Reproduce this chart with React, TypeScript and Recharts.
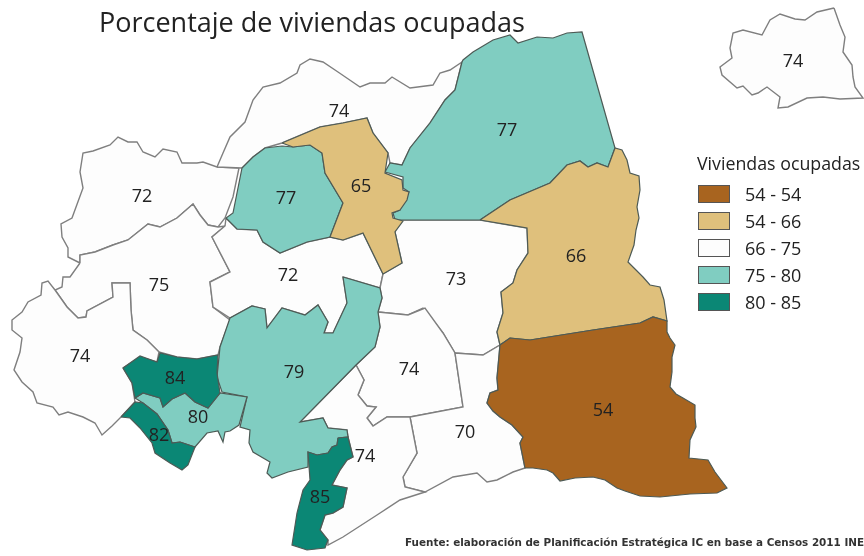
import React from 'react';
import { ScatterChart, Scatter, XAxis, YAxis } from 'recharts';

const WIDTH = 864;
const HEIGHT = 556;

type Pt = [number, number];

// class colours
const C54 = '#a8641f';
const C66 = '#dfc07c';
const C75 = '#fdfdfd';
const C80 = '#80cdc1';
const C85 = '#0b8775';

const legendItems = ['54 - 54', '54 - 66', '66 - 75', '75 - 80', '80 - 85'];
const legendColors = [C54, C66, C75, C80, C85];

// region outlines (x, y in picture units)
const west72: Pt[] = [[239,168],[217,167],[203,162],[197,163],[182,163],[177,152],[163,149],[155,157],[143,152],[137,142],[128,142],[118,137],[110,145],[93,151],[83,153],[80,172],[83,188],[72,218],[61,224],[62,237],[68,248],[68,257],[80,263],[80,255],[95,252],[113,245],[128,240],[148,224],[160,227],[177,218],[193,204],[200,215],[208,225],[218,227],[225,218],[233,197]];
const west75: Pt[] = [[80,263],[70,277],[63,277],[62,287],[55,290],[67,307],[78,318],[86,317],[87,311],[113,297],[112,283],[130,283],[131,310],[133,330],[147,340],[159,352],[177,357],[197,359],[218,355],[220,347],[230,320],[213,307],[210,282],[230,272],[212,237],[225,226],[218,227],[208,225],[200,215],[193,204],[177,218],[160,227],[148,224],[128,240],[113,245],[95,252],[80,255]];
const sw74: Pt[] = [[55,290],[48,281],[42,283],[41,295],[28,302],[22,312],[12,320],[12,330],[22,338],[20,352],[14,370],[22,382],[33,392],[37,403],[53,407],[59,415],[68,412],[83,417],[95,423],[102,435],[112,426],[121,417],[135,402],[132,383],[123,368],[140,357],[157,362],[159,352],[147,340],[133,330],[131,310],[130,283],[112,283],[113,297],[87,311],[86,317],[78,318],[67,307]];
const north74: Pt[] = [[217,167],[223,153],[230,137],[245,122],[253,100],[263,87],[280,83],[297,73],[300,65],[310,59],[323,62],[338,72],[360,87],[370,83],[385,83],[392,77],[410,88],[433,85],[440,73],[450,70],[462,62],[455,90],[445,100],[430,123],[410,148],[402,165],[390,163],[388,153],[373,133],[367,118],[343,123],[320,127],[282,143],[265,148],[253,157],[242,168]];
const mid72: Pt[] = [[226,218],[237,229],[257,230],[263,242],[280,253],[307,242],[330,237],[343,240],[363,233],[383,274],[380,288],[343,277],[347,303],[333,333],[324,333],[328,322],[318,305],[305,315],[282,308],[267,328],[265,309],[252,306],[230,318],[213,307],[210,282],[230,272],[212,237],[225,226]];
const mid73: Pt[] = [[395,220],[480,220],[527,228],[528,253],[517,270],[513,283],[501,292],[503,313],[497,332],[500,345],[483,355],[455,353],[443,333],[423,308],[408,315],[378,312],[382,298],[380,288],[383,274],[402,263],[395,232]];
const mid74: Pt[] = [[378,312],[408,315],[425,308],[443,333],[455,353],[463,407],[410,417],[387,417],[373,426],[367,418],[376,407],[367,406],[358,395],[364,380],[356,365],[375,347],[380,327]];
const south70: Pt[] = [[410,417],[463,407],[455,353],[483,355],[500,345],[498,367],[497,378],[498,390],[490,393],[487,403],[493,411],[500,417],[512,425],[523,437],[520,443],[525,468],[513,472],[497,480],[487,482],[477,473],[453,477],[425,492],[405,487],[403,477],[417,453]];
const south74: Pt[] = [[300,422],[356,365],[364,380],[358,395],[367,406],[376,407],[367,418],[373,426],[387,417],[410,417],[417,453],[403,477],[405,487],[425,492],[400,500],[377,515],[343,537],[328,545],[328,540],[320,530],[325,515],[333,513],[343,507],[347,488],[332,485],[340,470],[347,460],[353,457],[348,437],[347,430],[328,428],[323,418]];
const inset74: Pt[] = [[834,8],[840,25],[845,37],[843,52],[852,65],[853,77],[855,87],[863,98],[840,99],[823,97],[807,98],[788,107],[778,108],[780,97],[767,87],[758,93],[752,95],[743,86],[737,88],[722,75],[720,67],[732,58],[730,48],[733,33],[743,30],[762,35],[770,20],[780,14],[795,19],[805,20],[817,12]];

const west77: Pt[] = [[282,146],[293,147],[310,145],[322,153],[325,173],[343,203],[330,237],[307,242],[280,253],[263,242],[257,230],[237,229],[226,218],[233,213],[242,168],[253,157],[265,148]];
const east77: Pt[] = [[385,172],[390,163],[402,165],[410,148],[430,123],[445,100],[455,90],[462,62],[463,60],[473,52],[493,40],[510,35],[518,43],[537,37],[553,38],[567,33],[582,32],[615,148],[608,167],[597,163],[588,167],[580,161],[567,165],[550,183],[510,200],[480,220],[395,220],[393,213],[400,210],[403,200],[409,192],[403,188],[403,177]];
const center79: Pt[] = [[343,277],[380,288],[382,298],[378,312],[380,327],[375,347],[356,365],[300,422],[323,418],[328,428],[347,430],[348,437],[338,438],[337,445],[332,447],[328,453],[317,455],[308,452],[308,467],[288,472],[272,478],[267,473],[270,462],[253,452],[249,443],[250,430],[240,427],[247,397],[222,392],[217,377],[220,347],[230,318],[252,306],[265,309],[267,328],[282,308],[305,315],[318,305],[328,322],[324,333],[333,333],[347,303]];
const sw80: Pt[] = [[135,398],[143,393],[160,398],[163,407],[172,399],[185,393],[195,402],[208,408],[220,393],[247,397],[239,425],[230,431],[225,432],[223,442],[218,431],[207,433],[195,447],[180,442],[172,443],[168,430],[157,414],[143,403]];
const sw84: Pt[] = [[123,368],[140,356],[157,362],[160,353],[177,357],[197,359],[218,355],[217,373],[220,393],[208,408],[195,402],[185,393],[172,399],[163,407],[160,398],[143,393],[135,398],[132,383]];
const sw82: Pt[] = [[121,417],[135,402],[143,403],[157,414],[168,430],[172,443],[180,442],[195,447],[188,465],[182,470],[170,463],[155,453],[152,443],[140,428],[130,418]];
const south85: Pt[] = [[338,438],[348,437],[353,457],[347,460],[340,470],[332,485],[347,488],[343,507],[333,513],[325,515],[320,530],[328,540],[325,548],[307,550],[292,545],[297,513],[303,490],[310,480],[308,452],[317,455],[328,453],[332,447],[337,445]];
const north65: Pt[] = [[282,143],[320,127],[343,123],[367,118],[373,133],[388,153],[385,173],[402,180],[403,190],[409,192],[407,200],[400,210],[392,213],[393,218],[403,221],[395,232],[402,263],[383,274],[363,233],[343,240],[330,237],[343,203],[325,173],[322,153],[310,145],[293,147]];
const east66: Pt[] = [[480,220],[510,200],[550,183],[567,165],[580,161],[588,167],[597,163],[608,167],[615,148],[622,150],[627,160],[630,173],[639,176],[640,190],[637,207],[639,218],[636,230],[634,245],[628,262],[634,268],[643,277],[650,285],[660,287],[664,300],[667,321],[653,317],[640,323],[593,330],[530,340],[510,338],[500,345],[497,332],[503,313],[501,292],[513,283],[517,270],[528,253],[527,228]];
const south54: Pt[] = [[500,345],[510,338],[530,340],[593,330],[640,323],[653,317],[667,321],[667,332],[670,338],[675,345],[672,357],[672,372],[670,387],[676,394],[683,398],[695,405],[695,418],[696,427],[690,440],[689,458],[708,460],[715,472],[727,488],[717,493],[690,494],[660,497],[640,496],[625,491],[617,488],[605,480],[593,477],[575,478],[560,481],[553,473],[547,470],[533,468],[525,468],[520,443],[523,437],[512,425],[500,417],[493,411],[487,403],[490,393],[498,390],[497,378],[498,367]];

const whiteRegions = [west72, west75, sw74, north74, mid72, mid73, mid74, south70, south74, inset74];
const colorRegions: [Pt[], string][] = [
  [west77, C80], [east77, C80], [center79, C80], [sw80, C80],
  [sw84, C85], [sw82, C85], [south85, C85],
  [north65, C66], [east66, C66], [south54, C54],
];

const labelPoints = [
  { x: 793, y: 61, value: 74 }, { x: 339, y: 111, value: 74 }, { x: 507, y: 130, value: 77 },
  { x: 142, y: 196, value: 72 }, { x: 286, y: 198, value: 77 }, { x: 361, y: 186, value: 65 },
  { x: 576, y: 256, value: 66 }, { x: 288, y: 275, value: 72 }, { x: 456, y: 279, value: 73 },
  { x: 159, y: 285, value: 75 }, { x: 80, y: 356, value: 74 }, { x: 294, y: 372, value: 79 },
  { x: 175, y: 378, value: 84 }, { x: 409, y: 369, value: 74 }, { x: 198, y: 417, value: 80 },
  { x: 159, y: 435, value: 82 }, { x: 603, y: 410, value: 54 }, { x: 465, y: 432, value: 70 },
  { x: 365, y: 456, value: 74 }, { x: 320, y: 497, value: 85 },
];

const toData = (pts: Pt[]) => [...pts, pts[0]].map(([x, y]) => ({ x, y }));

const noDot = () => <g />;

const valueLabel = (props: any) => (
  <text x={props.cx} y={props.cy} dy="0.36em" textAnchor="middle" fontFamily="'Open Sans', sans-serif" fontSize={18} fill="#222">
    {props.payload.value}
  </text>
);

export default function App() {
  return (
    <div style={{ position: 'absolute', left: 0, top: 0, width: WIDTH, height: HEIGHT, background: '#fff', overflow: 'hidden', filter: 'blur(0.4px)' }}>
      <ScatterChart width={WIDTH} height={HEIGHT} margin={{ top: 0, right: 0, bottom: 0, left: 0 }}>
        <XAxis type="number" dataKey="x" domain={[0, WIDTH]} hide />
        <YAxis type="number" dataKey="y" domain={[0, HEIGHT]} reversed hide />
        {whiteRegions.map((pts, i) => (
          <Scatter key={'w' + i} data={toData(pts)} isAnimationActive={false} shape={noDot}
            line={{ fill: C75, stroke: '#7f7f7f', strokeWidth: 1.4 }} />
        ))}
        {colorRegions.map(([pts, color], i) => (
          <Scatter key={'c' + i} data={toData(pts)} isAnimationActive={false} shape={noDot}
            line={{ fill: color, stroke: '#4d5a55', strokeWidth: 1.2 }} />
        ))}
        <Scatter data={labelPoints} isAnimationActive={false} shape={valueLabel} />
      </ScatterChart>

      <div style={{ position: 'absolute', left: 99, top: 2, fontFamily: "'Open Sans', sans-serif", fontSize: 27, lineHeight: '40px', color: '#222', whiteSpace: 'nowrap' }}>
        Porcentaje de viviendas ocupadas
      </div>

      <div style={{ position: 'absolute', left: 697, top: 151, fontFamily: "'Open Sans', sans-serif", fontSize: 17.8, lineHeight: '24px', color: '#222', whiteSpace: 'nowrap' }}>
        Viviendas ocupadas
      </div>
      {legendItems.map((item, i) => (
        <div key={item} style={{ position: 'absolute', left: 698, top: 185 + i * 27, display: 'flex', alignItems: 'center', height: 18 }}>
          <div style={{ width: 30, height: 16, background: legendColors[i], border: '1px solid #555' }} />
          <span style={{ marginLeft: 15, fontFamily: "'Open Sans', sans-serif", fontSize: 18, color: '#222', whiteSpace: 'nowrap' }}>{item}</span>
        </div>
      ))}

      <div style={{ position: 'absolute', left: 405, top: 535, fontFamily: "'DejaVu Sans', sans-serif", fontWeight: 700, fontSize: 10.4, lineHeight: '14px', color: '#333', whiteSpace: 'nowrap' }}>
        Fuente: elaboración de Planificación Estratégica IC en base a Censos 2011 INE
      </div>
    </div>
  );
}
